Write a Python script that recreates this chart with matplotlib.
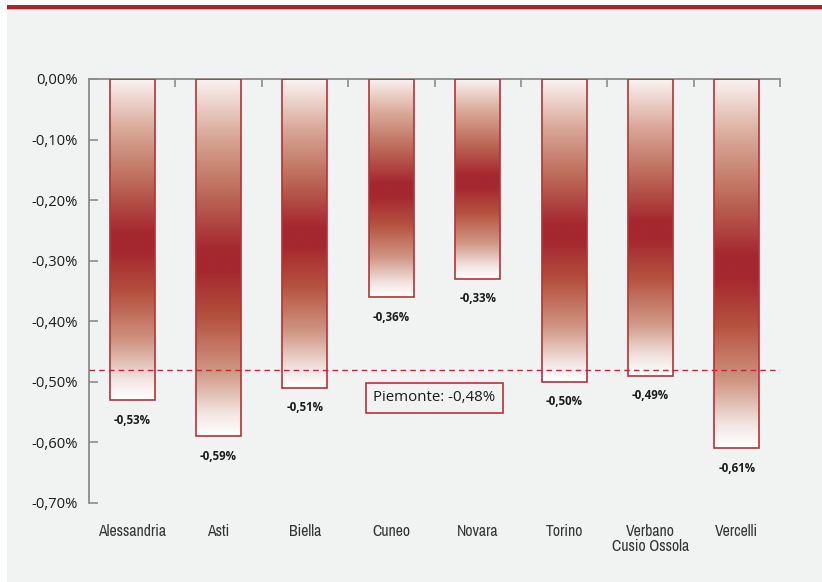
import matplotlib
matplotlib.use("Agg")
import matplotlib.pyplot as plt
import numpy as np
from matplotlib import font_manager
from matplotlib.colors import LinearSegmentedColormap
from matplotlib.patches import Rectangle

# Variazione percentuale per provincia
provinces = ["Alessandria", "Asti", "Biella", "Cuneo", "Novara", "Torino",
             "Verbano\nCusio Ossola", "Vercelli"]
values = [-0.53, -0.59, -0.51, -0.36, -0.33, -0.50, -0.49, -0.61]
region_label = "Piemonte"
region_value = -0.48
yticks = [0.0, -0.1, -0.2, -0.3, -0.4, -0.5, -0.6, -0.7]

BG = "#f1f2f2"
RED = "#a8272e"
AXIS = "#8c8c8c"


def pct(v):
    s = f"{v:.2f}".replace(".", ",") + "%"
    return "0,00%" if s == "-0,00%" else s


# narrow face for the category names, if one is installed
narrow = None
for f in font_manager.fontManager.ttflist:
    if ("Narrow" in f.name or "Condensed" in f.name) and f.style == "normal" \
            and f.weight in (400, "normal", "regular"):
        narrow = f.name
        break
if narrow is None:
    for f in font_manager.fontManager.ttflist:
        if f.stretch in ("condensed", "semi-condensed", 500 - 200) and f.style == "normal":
            narrow = f.name
            break
cat_font = dict(family=narrow, fontsize=11.3) if narrow else \
    dict(family="Roboto", fontsize=9.3, fontweight="light")

W, H = 822, 582
fig = plt.figure(figsize=(W / 100, H / 100), dpi=100, facecolor="white")

# panel background and top band
fig.add_artist(Rectangle((7 / W, 0), 1 - 7 / W, 1 - 5 / H,
                         transform=fig.transFigure, facecolor=BG,
                         edgecolor="none", zorder=-3))
fig.add_artist(Rectangle((7 / W, 1 - 9 / H), 1 - 7 / W, 4 / H,
                         transform=fig.transFigure, facecolor=RED,
                         edgecolor="none", zorder=-2))
fig.add_artist(Rectangle((7 / W, 1 - 10 / H), 1 - 7 / W, 1 / H,
                         transform=fig.transFigure, facecolor="#e2a9ab",
                         edgecolor="none", zorder=-2))

ax = fig.add_axes([89 / W, 1 - 503 / H, (780 - 89) / W, (503 - 79) / H])
ax.set_facecolor(BG)

grad = LinearSegmentedColormap.from_list("bar", [
    (0.00, "#faf3f1"),
    (0.16, "#d9a898"),
    (0.32, "#bd6a58"),
    (0.48, "#a5272f"),
    (0.54, "#a5272f"),
    (0.67, "#b5523f"),
    (0.82, "#d09684"),
    (0.94, "#f2e6e2"),
    (1.00, "#ffffff"),
])
ramp = np.linspace(0, 1, 256).reshape(-1, 1)

bw = 0.52
for i, v in enumerate(values):
    x0 = i + 0.5 - bw / 2
    ax.imshow(ramp, cmap=grad, extent=(x0, x0 + bw, v, 0), origin="upper",
              aspect="auto", interpolation="bilinear", zorder=2)
    ax.add_patch(Rectangle((x0, v), bw, -v, facecolor="none",
                           edgecolor="#b3333b", linewidth=1.2, zorder=3))
    ax.text(i + 0.5, v - 0.033, pct(v), ha="center", va="center",
            fontsize=8.3, fontweight="bold", family="Open Sans",
            color="#1a1a1a", zorder=5)
    ax.text(i + 0.5, -0.70 - 0.035, provinces[i], ha="center", va="top",
            color="#333333", linespacing=1.0, clip_on=False, **cat_font)

ax.axhline(region_value, color="#c4262e", linewidth=1.0,
           linestyle=(0, (4, 3)), zorder=4)
ax.text(4.0, -0.526, f"{region_label}: {pct(region_value)}", ha="center",
        va="center", fontsize=10.8, family="Open Sans", color="#1a1a1a",
        zorder=5,
        bbox=dict(boxstyle="square,pad=0.5", facecolor=BG,
                  edgecolor="#b3333b", linewidth=1.2))

ax.set_xlim(0, len(values))
ax.set_ylim(-0.70, 0)

for s in ("bottom", "right"):
    ax.spines[s].set_visible(False)
for s in ("left", "top"):
    ax.spines[s].set_color(AXIS)
    ax.spines[s].set_linewidth(1.3)

ax.set_yticks(yticks)
ax.set_yticklabels([pct(t) for t in yticks], family="Open Sans",
                   fontsize=10.6, color="#1a1a1a")
ax.tick_params(axis="y", direction="in", length=6.5, width=1.2,
               color=AXIS, pad=8)

ax.xaxis.tick_top()
ax.set_xticks(np.arange(1, len(values) + 1))
ax.set_xticklabels([])
ax.tick_params(axis="x", direction="in", length=6, width=1.2, color=AXIS)

fig.savefig("out.png", dpi=100, facecolor="white")
